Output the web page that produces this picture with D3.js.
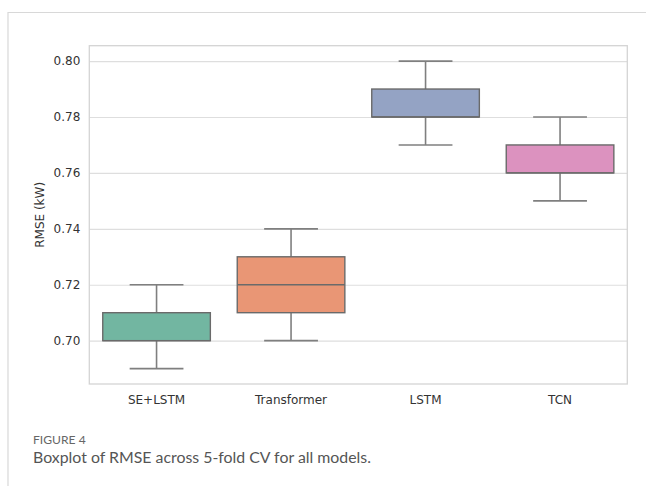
<!DOCTYPE html>
<html>
<head>
<meta charset="utf-8">
<script src="https://cdn.jsdelivr.net/npm/d3@7"></script>
<style>
  body { margin: 0; background: #fff; }
  svg text { font-family: "DejaVu Sans", sans-serif; }
  svg text.caption { font-family: Lato, "Open Sans", sans-serif; }
</style>
</head>
<body>
<div id="chart"></div>
<script>
// RMSE summary per model
var models = ["SE+LSTM", "Transformer", "LSTM", "TCN"];
var whiskerLow = [0.69, 0.70, 0.77, 0.75];
var q1 = [0.70, 0.71, 0.78, 0.76];
var median = [0.70, 0.72, 0.78, 0.76];
var q3 = [0.71, 0.73, 0.79, 0.77];
var whiskerHigh = [0.72, 0.74, 0.80, 0.78];
var yTicks = [0.70, 0.72, 0.74, 0.76, 0.78, 0.80];
var colors = ["#72b6a1", "#e99675", "#94a3c4", "#dc92bf"];

var width = 646, height = 486;
var margin = {top: 45.7, right: 18.7, bottom: 102, left: 89.3};

var rows = models.map(function(m, i) {
  return {model: m, lo: whiskerLow[i], q1: q1[i], med: median[i], q3: q3[i], hi: whiskerHigh[i], color: colors[i]};
});

var svg = d3.select("#chart")
  .append("svg")
  .attr("width", width)
  .attr("height", height);

// page frame
svg.append("line")
  .attr("x1", 8).attr("x2", width).attr("y1", 12.5).attr("y2", 12.5)
  .style("stroke", "#d8d8d8").style("stroke-width", 1.2);
svg.append("line")
  .attr("x1", 8).attr("x2", 8).attr("y1", 12).attr("y2", height)
  .style("stroke", "#d8d8d8").style("stroke-width", 1.2);

var xScale = d3.scaleBand()
  .domain(models)
  .range([margin.left, width - margin.right])
  .paddingInner(0).paddingOuter(0);

var yScale = d3.scaleLinear()
  .domain([0.6845, 0.8055])
  .range([height - margin.bottom, margin.top]);

var boxW = xScale.bandwidth() * 0.8;
var capW = boxW / 2;

// grid
var yGrid = d3.axisLeft(yScale)
  .tickValues(yTicks)
  .tickSize(-(width - margin.left - margin.right))
  .tickFormat("");

svg.append("g")
  .attr("class", "grid")
  .attr("transform", `translate(${margin.left},0)`)
  .call(yGrid)
  .call(g => g.select(".domain").remove())
  .selectAll("line")
  .style("stroke", "#dedede")
  .style("stroke-width", 1.1);

// plot frame
svg.append("rect")
  .attr("x", margin.left)
  .attr("y", margin.top)
  .attr("width", width - margin.left - margin.right)
  .attr("height", height - margin.top - margin.bottom)
  .style("fill", "none")
  .style("stroke", "#d4d4d4")
  .style("stroke-width", 1.3);

var boxes = svg.selectAll(".box")
  .data(rows)
  .enter()
  .append("g")
  .attr("class", "box");

var cx = d => xScale(d.model) + xScale.bandwidth() / 2;

// whiskers
boxes.append("line")
  .attr("x1", cx).attr("x2", cx)
  .attr("y1", d => yScale(d.lo))
  .attr("y2", d => yScale(d.q1))
  .style("stroke", "#7f7f7f").style("stroke-width", 1.6);
boxes.append("line")
  .attr("x1", cx).attr("x2", cx)
  .attr("y1", d => yScale(d.q3))
  .attr("y2", d => yScale(d.hi))
  .style("stroke", "#7f7f7f").style("stroke-width", 1.6);

// caps
["lo", "hi"].forEach(function(k) {
  boxes.append("line")
    .attr("x1", d => cx(d) - capW / 2)
    .attr("x2", d => cx(d) + capW / 2)
    .attr("y1", d => yScale(d[k]))
    .attr("y2", d => yScale(d[k]))
    .style("stroke", "#7f7f7f").style("stroke-width", 1.6);
});

// boxes
boxes.append("rect")
  .attr("x", d => cx(d) - boxW / 2)
  .attr("y", d => yScale(d.q3))
  .attr("width", boxW)
  .attr("height", d => yScale(d.q1) - yScale(d.q3))
  .attr("fill", d => d.color)
  .style("stroke", "#6a6a6a")
  .style("stroke-width", 1.4);

// median
boxes.append("line")
  .attr("x1", d => cx(d) - boxW / 2)
  .attr("x2", d => cx(d) + boxW / 2)
  .attr("y1", d => yScale(d.med))
  .attr("y2", d => yScale(d.med))
  .style("stroke", "#6a6a6a").style("stroke-width", 1.4);

// axes
var yAxis = d3.axisLeft(yScale)
  .tickValues(yTicks)
  .tickSize(0)
  .tickPadding(9)
  .tickFormat(d3.format(".2f"));

svg.append("g")
  .attr("class", "y-axis")
  .attr("transform", `translate(${margin.left},0)`)
  .call(yAxis)
  .call(g => g.select(".domain").remove())
  .selectAll("text")
  .attr("font-size", "12px")
  .style("fill", "#333");

var xAxis = d3.axisBottom(xScale)
  .tickSize(0)
  .tickPadding(11);

svg.append("g")
  .attr("class", "x-axis")
  .attr("transform", `translate(0,${height - margin.bottom})`)
  .call(xAxis)
  .call(g => g.select(".domain").remove())
  .selectAll("text")
  .attr("font-size", "12px")
  .style("fill", "#333");

svg.append("text")
  .attr("text-anchor", "middle")
  .attr("transform", `translate(${44},${(margin.top + height - margin.bottom) / 2}) rotate(-90)`)
  .attr("font-size", "12px")
  .style("fill", "#333")
  .text("RMSE (kW)");

// caption, sized to the reference widths
function fitText(sel, target) {
  var w = sel.node().getComputedTextLength();
  var fs = parseFloat(sel.style("font-size"));
  sel.style("font-size", (fs * target / w) + "px");
}

var figLabel = svg.append("text")
  .attr("class", "caption")
  .attr("x", 33)
  .attr("y", 444)
  .style("font-size", "14px")
  .style("font-weight", 400)
  .style("fill", "#666")
  .text("FIGURE 4");
fitText(figLabel, 52.7);

var caption = svg.append("text")
  .attr("class", "caption")
  .attr("x", 33)
  .attr("y", 462.7)
  .style("font-size", "17px")
  .style("fill", "#555")
  .text("Boxplot of RMSE across 5-fold CV for all models.");
fitText(caption, 338);
</script>
</body>
</html>
